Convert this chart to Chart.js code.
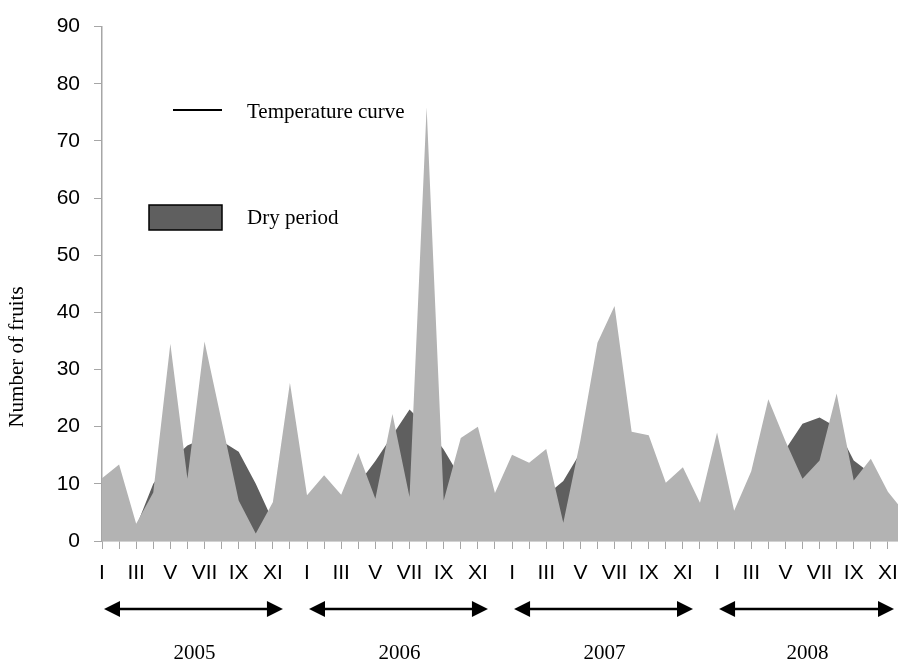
<!DOCTYPE html>
<html>
<head>
<meta charset="utf-8">
<script src="https://cdn.jsdelivr.net/npm/chart.js@4.4.0/dist/chart.umd.min.js"></script>
<style>
  html, body { margin: 0; padding: 0; background: #fff; overflow: hidden; }
</style>
</head>
<body>
<canvas id="fruit-chart" width="906" height="662"></canvas>
<script>
// month ticks, only odd months get a roman numeral
const monthNames = ["I", "", "III", "", "V", "", "VII", "", "IX", "", "XI", ""];
const years = ["2005", "2006", "2007", "2008"];
const months = [].concat(monthNames, monthNames, monthNames, monthNames);

// number of fruits per month (light grey area)
const fruits = [
  11.0, 13.4, 3.0, 8.5, 34.5, 10.9, 34.9, 21.0, 7.1, 1.3, 6.8, 27.7,
  8.0, 11.5, 8.1, 15.4, 7.4, 22.2, 7.7, 75.9, 7.1, 18.0, 20.0, 8.4,
  15.1, 13.7, 16.1, 3.2, 17.6, 34.7, 41.1, 19.1, 18.5, 10.2, 12.9, 6.7,
  19.0, 5.3, 12.2, 24.8, 17.5, 10.9, 14.1, 25.8, 10.6, 14.4, 8.6, 4.9
];

// dark grey area behind it
const dryPeriod = [
  9, 10, 2.5, 10, 14, 16.7, 18, 17.5, 15.6, 10, 3.5, 6,
  6, 7, 7.5, 10, 14, 18.5, 23, 20, 16, 11, 12, 7,
  10, 9, 8, 10.5, 15.5, 20, 25, 15, 14, 8, 10, 5,
  8, 4, 9, 12, 16, 20.5, 21.6, 19.9, 14.1, 11.8, 8, 4.5
];

const axisGrey = "#a6a6a6";
const serif = "'Liberation Serif', 'Times New Roman', serif";
const sans = "'Liberation Sans', Arial, sans-serif";

function arrow(ctx, x1, x2, y) {
  const head = 16, half = 8;
  ctx.beginPath();
  ctx.moveTo(x1 + head - 2, y);
  ctx.lineTo(x2 - head + 2, y);
  ctx.stroke();
  ctx.beginPath();
  ctx.moveTo(x1, y);
  ctx.lineTo(x1 + head, y - half);
  ctx.lineTo(x1 + head, y + half);
  ctx.closePath();
  ctx.fill();
  ctx.beginPath();
  ctx.moveTo(x2, y);
  ctx.lineTo(x2 - head, y - half);
  ctx.lineTo(x2 - head, y + half);
  ctx.closePath();
  ctx.fill();
}

const extras = {
  id: "extras",
  afterDraw(chart) {
    const ctx = chart.ctx;
    const x = chart.scales.x;
    ctx.save();

    // y title
    ctx.fillStyle = "#000";
    ctx.font = "21px " + serif;
    ctx.textAlign = "center";
    ctx.textBaseline = "middle";
    ctx.translate(17, 357);
    ctx.rotate(-Math.PI / 2);
    ctx.fillText("Number of fruits", 0, 0);
    ctx.setTransform(1, 0, 0, 1, 0, 0);

    // legend
    ctx.strokeStyle = "#000";
    ctx.lineWidth = 2;
    ctx.beginPath();
    ctx.moveTo(173, 110);
    ctx.lineTo(222, 110);
    ctx.stroke();
    ctx.fillStyle = "#5f5f5f";
    ctx.fillRect(149, 205, 73, 25);
    ctx.lineWidth = 1.5;
    ctx.strokeRect(149, 205, 73, 25);
    ctx.fillStyle = "#000";
    ctx.font = "21px " + serif;
    ctx.textAlign = "left";
    ctx.textBaseline = "middle";
    ctx.fillText("Temperature curve", 247, 112);
    ctx.fillText("Dry period", 247, 218);

    // year arrows + labels
    ctx.lineWidth = 2.5;
    ctx.strokeStyle = "#000";
    ctx.fillStyle = "#000";
    ctx.font = "21px " + serif;
    ctx.textAlign = "center";
    ctx.textBaseline = "alphabetic";
    years.forEach((yr, k) => {
      const a = x.getPixelForValue(k * 12) + 2;
      const b = Math.min(x.getPixelForValue(k * 12 + 11) - 7, 894);
      arrow(ctx, a, b, 609);
      ctx.fillText(yr, (a + b) / 2 + 1, 659);
    });
    ctx.restore();
  }
};

new Chart(document.getElementById("fruit-chart"), {
  type: "line",
  data: {
    labels: months,
    datasets: [
      {
        label: "Number of fruits",
        data: fruits,
        backgroundColor: "#b3b3b3",
        borderWidth: 0,
        pointRadius: 0,
        fill: "origin"
      },
      {
        label: "Dry period",
        data: dryPeriod,
        backgroundColor: "#5f5f5f",
        borderWidth: 0,
        pointRadius: 0,
        fill: "origin"
      }
    ]
  },
  options: {
    responsive: false,
    animation: false,
    layout: { padding: { top: 24, right: 1, left: 0, bottom: 0 } },
    plugins: { legend: { display: false }, tooltip: { enabled: false } },
    scales: {
      x: {
        offset: false,
        grid: { drawOnChartArea: false, tickLength: 8, color: axisGrey },
        border: { color: axisGrey, width: 1.5 },
        ticks: { autoSkip: false, maxRotation: 0, minRotation: 0, padding: 12, color: "#000", font: { family: sans, size: 21 } },
        afterFit: s => { s.height = 121; s.paddingLeft = 0; s.paddingRight = 0; }
      },
      y: {
        min: 0,
        max: 90,
        grid: { drawOnChartArea: false, tickLength: 8, color: axisGrey },
        border: { color: axisGrey, width: 1.5 },
        ticks: { stepSize: 10, padding: 14, color: "#000", font: { family: sans, size: 21 } },
        afterFit: s => { s.width = 102; }
      }
    }
  },
  plugins: [extras]
});
</script>
</body>
</html>
